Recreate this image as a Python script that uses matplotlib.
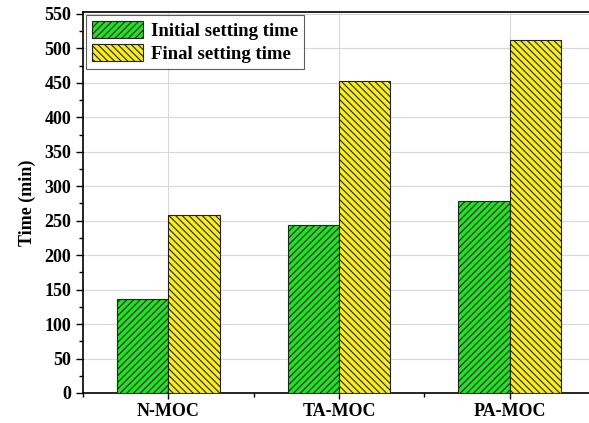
import matplotlib
matplotlib.use('Agg')
import matplotlib.pyplot as plt
import numpy as np
from matplotlib.ticker import MultipleLocator

# setting time data (min)
samples = ['N-MOC', 'TA-MOC', 'PA-MOC']
initial_time = [136, 243, 278]
final_time = [258, 452, 512]

plt.rcParams['font.family'] = 'Liberation Serif'
plt.rcParams['font.weight'] = 'bold'
plt.rcParams['hatch.linewidth'] = 0.8
plt.rcParams['hatch.color'] = '#222222'

fig = plt.figure(figsize=(5.89, 4.23), dpi=100)
ax = fig.add_axes([0.141, 0.071, 0.869, 0.901])

x = np.arange(1, len(samples) + 1)
w = 0.3
ax.bar(x - w / 2, initial_time, w, color='#22e022', edgecolor='#222222',
       linewidth=0.8, hatch='/////', label='Initial setting time', zorder=3)
ax.bar(x + w / 2, final_time, w, color='#f8ee1c', edgecolor='#222222',
       linewidth=0.8, hatch='\\\\\\\\\\', label='Final setting time', zorder=3)

ax.set_xlim(0.5, 3.5)
ax.set_ylim(0, 553)
ax.set_xticks(x)
ax.set_xticklabels(samples, fontsize=13, fontweight='bold')
ax.xaxis.set_minor_locator(MultipleLocator(0.5))
ax.yaxis.set_major_locator(MultipleLocator(50))
ax.yaxis.set_minor_locator(MultipleLocator(25))
ax.tick_params(axis='y', labelsize=13, length=5, width=1, direction='out')
ax.tick_params(axis='x', length=4, width=1, direction='out', pad=3)
ax.tick_params(which='minor', length=3, width=1)
for lab in ax.get_yticklabels():
    lab.set_fontweight('bold')
ax.set_ylabel('Time (min)', fontsize=13, fontweight='bold', labelpad=6)

ax.grid(True, color='#d8d8d8', linewidth=0.8, zorder=0)
ax.set_axisbelow(True)
for s in ax.spines.values():
    s.set_linewidth(1.2)

leg = ax.legend(loc='upper left', fontsize=13.5, frameon=True, fancybox=False,
                edgecolor='#333333', borderaxespad=0.15, handlelength=2.7,
                handleheight=1.0, handletextpad=0.4, borderpad=0.35,
                labelspacing=0.2)
leg.get_frame().set_linewidth(0.8)
for t in leg.get_texts():
    t.set_fontweight('bold')

fig.savefig('out.png', dpi=100)
